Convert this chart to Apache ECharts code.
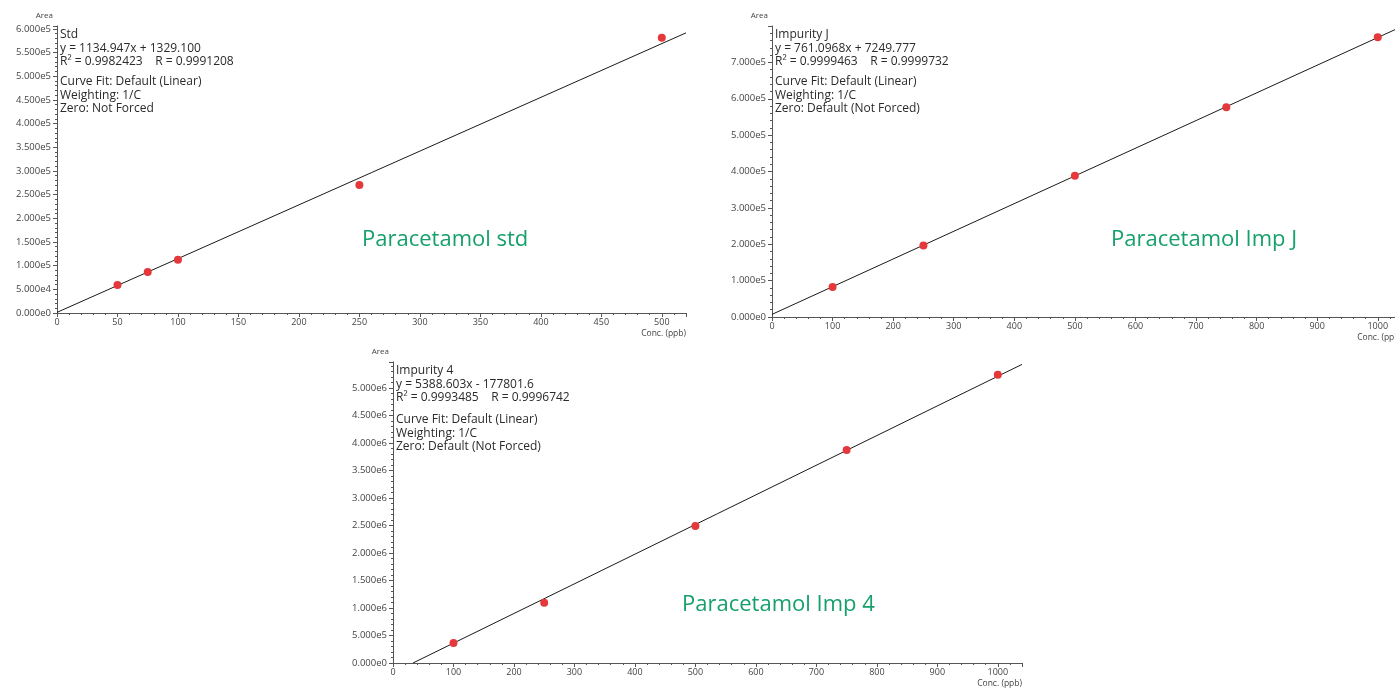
<!DOCTYPE html>
<html>
<head>
<meta charset="utf-8">
<script src="https://cdn.jsdelivr.net/npm/echarts@6/dist/echarts.min.js"></script>
<style>
html,body{margin:0;padding:0;background:#fff;}
#chart{width:1395px;height:691px;}
</style>
</head>
<body>
<div id="chart"></div>
<script>
// ---- data ----
var stdPoints = [[50, 59000], [75, 86500], [100, 112500], [250, 270500], [500, 581000]];
var stdFitLine = [[0, 1329], [520, 591500]];
var impJPoints = [[100, 82800], [250, 196500], [500, 388000], [750, 576500], [1000, 768800]];
var impJFitLine = [[0, 7250], [1040, 798800]];
var imp4Points = [[100, 364000], [250, 1095000], [500, 2490000], [750, 3870000], [1000, 5240000]];
var imp4FitLine = [[33, 0], [1040, 5426500]];

var stdText1 = ['Std', 'y = 1134.947x + 1329.100', 'R\u00b2 = 0.9982423    R = 0.9991208'];
var stdText2 = ['Curve Fit: Default (Linear)', 'Weighting: 1/C', 'Zero: Not Forced'];
var impJText1 = ['Impurity J', 'y = 761.0968x + 7249.777', 'R\u00b2 = 0.9999463    R = 0.9999732'];
var impJText2 = ['Curve Fit: Default (Linear)', 'Weighting: 1/C', 'Zero: Default (Not Forced)'];
var imp4Text1 = ['Impurity 4', 'y = 5388.603x - 177801.6', 'R\u00b2 = 0.9993485    R = 0.9996742'];
var imp4Text2 = ['Curve Fit: Default (Linear)', 'Weighting: 1/C', 'Zero: Default (Not Forced)'];
var titles = ['Paracetamol std', 'Paracetamol Imp J', 'Paracetamol Imp 4'];
var xName = 'Conc. (ppb)';
var yName = 'Area';

// ---- styling helpers ----
var FONT = 'Open Sans';
var AX = '#555';
function expFmt(v) { return Number(v).toExponential(3).replace('e+', 'e'); }
function plainFmt(v) { return String(v); }
function xAxis(gi, max, interval) {
  return {
    gridIndex: gi, type: 'value', min: 0, max: max, interval: interval,
    name: xName, nameLocation: 'end', nameGap: 0,
    nameTextStyle: { fontFamily: FONT, fontSize: 8.5, color: '#444', align: 'right', verticalAlign: 'top', padding: [16, 0, 0, 0] },
    axisLine: { onZero: false, lineStyle: { color: AX, width: 1 } },
    axisTick: { show: true, length: 4, lineStyle: { color: AX } },
    minorTick: { show: true, splitNumber: 5, length: 2, lineStyle: { color: AX } },
    splitLine: { show: false },
    axisLabel: { fontFamily: FONT, fontSize: 9, color: '#444', margin: 5, showMaxLabel: false, formatter: plainFmt }
  };
}
function yAxis(gi, max, interval) {
  return {
    gridIndex: gi, type: 'value', min: 0, max: max, interval: interval,
    name: yName, nameLocation: 'end', nameGap: 6,
    nameTextStyle: { fontFamily: FONT, fontSize: 8, color: '#444', align: 'right', padding: [0, 4, 0, 0] },
    axisLine: { show: true, onZero: false, lineStyle: { color: AX, width: 1 } },
    axisTick: { show: true, length: 4, lineStyle: { color: AX } },
    minorTick: { show: true, splitNumber: 5, length: 2, lineStyle: { color: AX } },
    splitLine: { show: false },
    axisLabel: { fontFamily: FONT, fontSize: 9.5, color: '#444', margin: 6, formatter: expFmt, showMaxLabel: false }
  };
}
function scatter(i, data) {
  return { type: 'scatter', xAxisIndex: i, yAxisIndex: i, data: data, symbolSize: 8, z: 3,
    itemStyle: { color: '#e5383b', opacity: 1 } };
}
function fit(i, data) {
  return { type: 'line', xAxisIndex: i, yAxisIndex: i, data: data, showSymbol: false, symbol: 'none',
    lineStyle: { color: '#1a1a1a', width: 1 }, z: 2, silent: true };
}
function textBlock(x, y, lines) {
  return { type: 'text', left: x, top: y,
    style: { text: lines.join('\n'), fontFamily: FONT, fontSize: 12, lineHeight: 13.5, fill: '#2a2a2a' } };
}
function bigTitle(x, y, t) {
  return { type: 'text', left: x, top: y,
    style: { text: t, fontFamily: FONT, fontSize: 22, fill: '#16a06b' } };
}

var chart = echarts.init(document.getElementById('chart'), null, { renderer: 'canvas' });
chart.setOption({
  backgroundColor: '#ffffff',
  animation: false,
  grid: [
    { left: 57, top: 26, width: 629, height: 287, outerBoundsMode: 'none', containLabel: false },
    { left: 772, top: 26, width: 630, height: 291, outerBoundsMode: 'none', containLabel: false },
    { left: 393, top: 362, width: 629, height: 301, outerBoundsMode: 'none', containLabel: false }
  ],
  xAxis: [xAxis(0, 520, 50), xAxis(1, 1040, 100), xAxis(2, 1040, 100)],
  yAxis: [yAxis(0, 606000, 50000), yAxis(1, 800000, 100000), yAxis(2, 5470000, 500000)],
  series: [
    fit(0, stdFitLine), scatter(0, stdPoints),
    fit(1, impJFitLine), scatter(1, impJPoints),
    fit(2, imp4FitLine), scatter(2, imp4Points)
  ],
  graphic: [
    textBlock(60, 28, stdText1), textBlock(60, 75, stdText2),
    textBlock(775, 28, impJText1), textBlock(775, 75, impJText2),
    textBlock(396, 364, imp4Text1), textBlock(396, 413, imp4Text2),
    bigTitle(362, 229, titles[0]),
    bigTitle(1111, 229, titles[1]),
    bigTitle(682, 594, titles[2])
  ]
});
</script>
</body>
</html>
